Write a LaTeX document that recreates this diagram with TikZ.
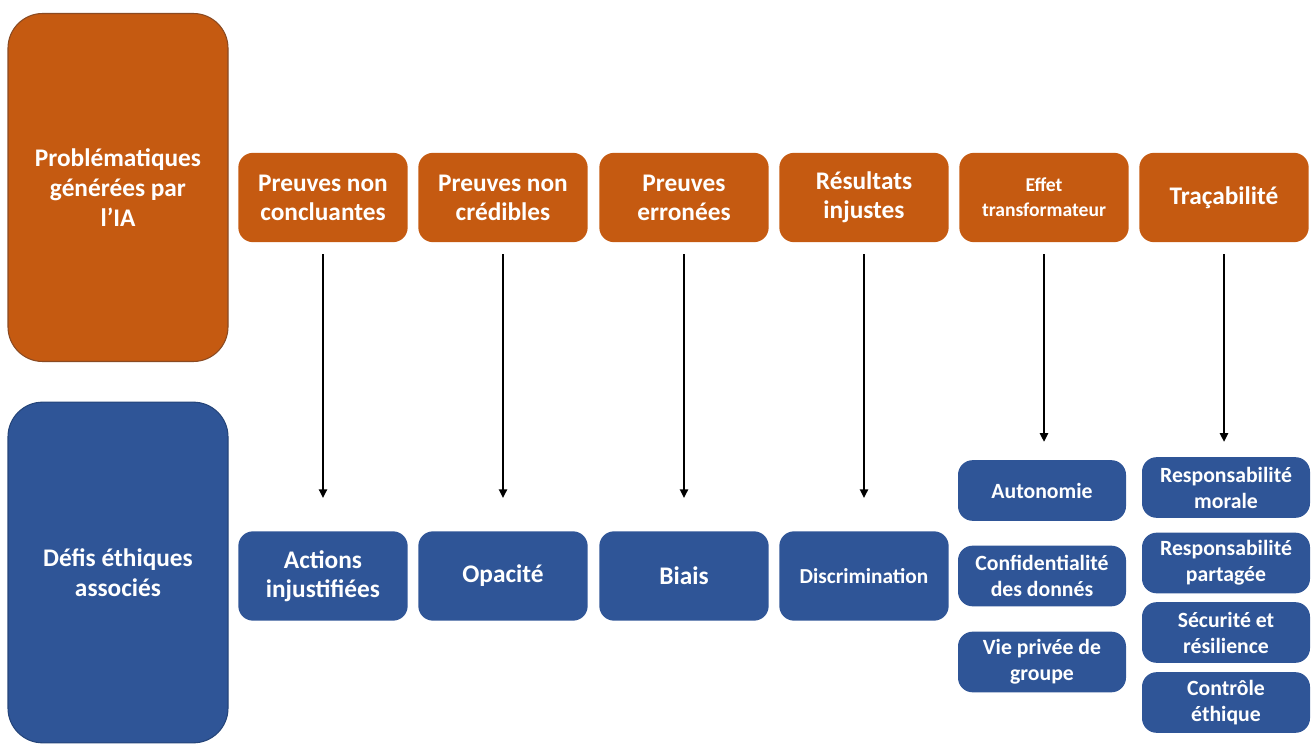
\documentclass[tikz,border=0pt]{standalone}
\usepackage{fontspec}
\setmainfont{Carlito}
\usetikzlibrary{arrows.meta,positioning}
\definecolor{iaorange}{HTML}{C55A11}
\definecolor{iablue}{HTML}{2F5597}
\definecolor{iaorangeline}{HTML}{8A4A22}
\definecolor{iablueline}{HTML}{25457A}
\tikzset{
  bigbox/.style={rounded corners=26pt, minimum width=165pt, align=center, text=white,
    font=\bfseries\fontsize{19}{22.5}\selectfont, line width=0.8pt, inner sep=0pt},
  probbox/.style={fill=iaorange, rounded corners=11pt, minimum width=127pt, minimum height=67pt,
    align=center, text=white, font=\bfseries\fontsize{19}{21.75}\selectfont, inner sep=0pt},
  defibox/.style={probbox, fill=iablue},
  smallbox/.style={defibox, minimum width=126pt, minimum height=45.5pt, font=\bfseries\fontsize{16.3}{19.5}\selectfont},
  flow/.style={-{Triangle[width=6pt,length=6.5pt]}, line width=1.5pt}
}
\begin{document}
\begin{tikzpicture}[x=0.75pt,y=-0.75pt]
  \useasboundingbox (0,0) rectangle (1311,745);
  \node[bigbox, fill=iaorange, draw=iaorangeline, minimum height=261pt] (prob) at (118,187.5) {Problématiques\\générées par\\l’IA};
  \node[bigbox, fill=iablue, draw=iablueline, minimum height=255.5pt] (defis) at (118,572.5) {Défis éthiques\\associés};

  \node[probbox] (p1) at (323,197.5) {Preuves non\\concluantes};
  \node[probbox] (p2) at (503,197.5) {Preuves non\\crédibles};
  \node[probbox] (p3) at (684,197.5) {Preuves\\erronées};
  \node[probbox] (p4) at (864,197.5) {Résultats\\injustes};
  \node[probbox, font=\bfseries\fontsize{14.7}{18.75}\selectfont] (p5) at (1044,197.5) {Effet\\transformateur};
  \node[probbox] (p6) at (1224,197.5) {Traçabilité};

  \node[defibox] (d1) at (323,576) {Actions\\injustifiées};
  \node[defibox] (d2) at (503,576) {Opacité};
  \node[defibox] (d3) at (684,576) {Biais};
  \node[defibox, font=\bfseries\fontsize{16}{19}\selectfont] (d4) at (864,576) {Discrimination};

  \node[smallbox] (d5a) at (1042,490.5) {Autonomie};
  \node[smallbox] (d5b) at (1042,576) {Confidentialité\\des donnés};
  \node[smallbox] (d5c) at (1042,662) {Vie privée de\\groupe};

  \node[smallbox] (d6a) at (1226,487.5) {Responsabilité\\morale};
  \node[smallbox] (d6b) at (1226,563) {Responsabilité\\partagée};
  \node[smallbox] (d6c) at (1226,632.5) {Sécurité et\\résilience};
  \node[smallbox] (d6d) at (1226,702.5) {Contrôle\\éthique};

  \foreach \i in {1,...,4}
    \draw[flow, shorten <=9pt, shorten >=24.75pt] (p\i.south) -- (p\i.south |- d\i.north);
  \draw[flow, shorten <=9pt, shorten >=13.5pt] (p5.south) -- (p5.south |- d5a.north);
  \draw[flow, shorten <=9pt, shorten >=11.25pt] (p6.south) -- (p6.south |- d6a.north);
\end{tikzpicture}
\end{document}
